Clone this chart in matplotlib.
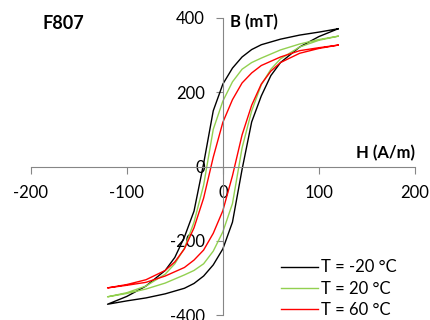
import matplotlib
matplotlib.use("Agg")
import matplotlib.pyplot as plt

plt.rcParams['font.family'] = ['Lato', 'DejaVu Sans']
plt.rcParams['axes.unicode_minus'] = False

# Upper branch (H decreasing) and lower branch (H increasing), H in A/m, B in mT
H_up = [120, 100, 80, 60, 40, 30, 20, 10, 0, -10, -20, -30, -40, -50, -60, -80, -100, -120]
H_lo = [-120, -100, -80, -60, -40, -30, -20, -10, 0, 10, 20, 30, 40, 50, 60, 80, 100, 120]

B_m20_up = [371, 362, 354, 343, 328, 315, 295, 265, 222, 150, 8, -120, -190, -245, -280, -322, -350, -371]
B_m20_lo = [-371, -362, -354, -343, -328, -315, -295, -265, -222, -150, -8, 120, 190, 245, 280, 322, 350, 371]

B_20_up = [351, 342, 330, 314, 292, 280, 262, 228, 176, 100, -50, -150, -220, -262, -290, -322, -340, -351]
B_20_lo = [-351, -342, -330, -314, -292, -280, -262, -228, -176, -100, 50, 150, 220, 262, 290, 322, 340, 351]

B_60_up = [327, 320, 312, 295, 272, 252, 225, 180, 119, 25, -85, -165, -222, -257, -280, -305, -318, -327]
B_60_lo = [-327, -320, -312, -295, -272, -252, -225, -180, -119, -25, 85, 165, 222, 257, 280, 305, 318, 327]

labels = ['T = -20 °C', 'T = 20 °C', 'T = 60 °C']
colors = ['#000000', '#92D050', '#FF0000']
x_ticks = [-200, -100, 0, 100, 200]
y_ticks = [-400, -200, 0, 200, 400]

fig = plt.figure(figsize=(4.3, 3.2), dpi=100)
ax = fig.add_axes([30.7/430, 1-315/320, 384.3/430, 297/320])

series = [(B_m20_up, B_m20_lo), (B_20_up, B_20_lo), (B_60_up, B_60_lo)]
for (bu, bl), lab, c in zip(series, labels, colors):
    ax.plot(H_up + H_lo, bu + bl, color=c, lw=1.0, label=lab)

ax.set_xlim(-200, 200)
ax.set_ylim(-400, 400)
ax.set_xticks(x_ticks)
ax.set_yticks(y_ticks)
for s in ['top', 'right']:
    ax.spines[s].set_visible(False)
ax.spines['left'].set_position(('data', 0))
ax.spines['bottom'].set_position(('data', 0))
for s in ['left', 'bottom']:
    ax.spines[s].set_color('#868686')
    ax.spines[s].set_linewidth(0.8)
ax.tick_params(axis='both', direction='out', length=5, width=0.8, color='#868686',
               labelsize=12, labelcolor='#000000')
ax.tick_params(axis='x', pad=8)
ax.tick_params(axis='y', pad=8)

ax.text(230/430, 1-27/320, 'B (mT)', transform=fig.transFigure, fontsize=12,
        fontweight='bold', ha='left', va='baseline')
ax.text(415/430, 1-158/320, 'H (A/m)', transform=fig.transFigure, fontsize=12,
        fontweight='bold', ha='right', va='baseline')
fig.text(43/430, 1-29/320, 'F807', fontsize=13, fontweight='bold', ha='left', va='baseline')

leg = ax.legend(loc='lower left', bbox_to_anchor=(281/430, 2/320), bbox_transform=fig.transFigure,
                frameon=False, fontsize=12, handlelength=2.2, handletextpad=0.2,
                labelspacing=0.32, borderpad=0, borderaxespad=0)

fig.savefig('out.png', dpi=100)
